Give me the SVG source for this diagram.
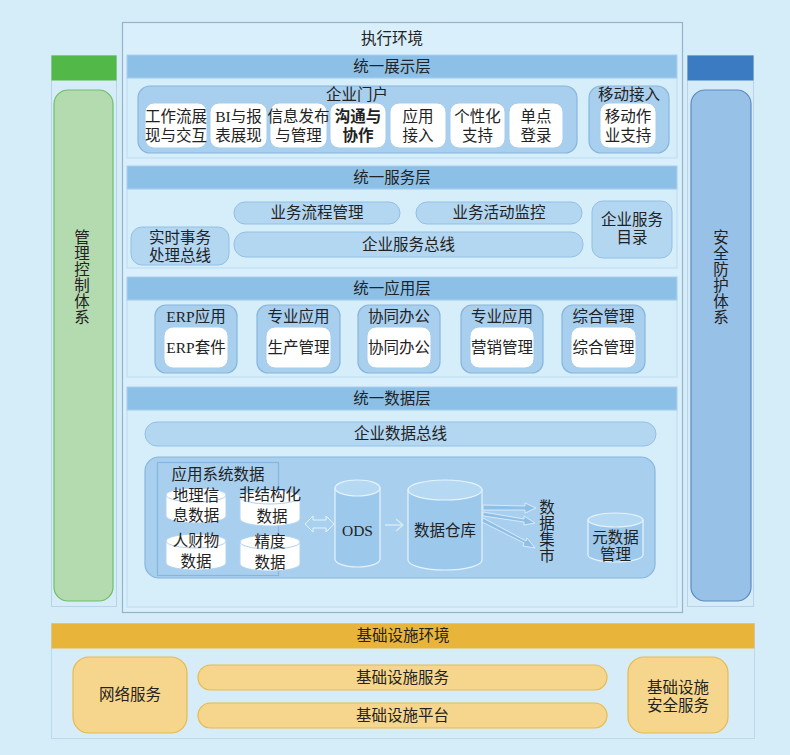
<svg xmlns="http://www.w3.org/2000/svg" width="790" height="755" viewBox="0 0 790 755">
<defs>
<style>
text{font-family:"Liberation Serif","Noto Sans CJK SC",serif;font-size:15.5px;fill:#222;text-anchor:middle}
.bar{fill:#8dc0e7;stroke:#a9d0ee;stroke-width:1}
.panel{fill:#d6edfa;stroke:#bcdcf0;stroke-width:1}
.grp{fill:#a9cfee;stroke:#86b6de;stroke-width:1.2}
.item{fill:#fff;stroke:#a6cdec;stroke-width:1}
.pill{fill:#b3d6f1;stroke:#93c0e4;stroke-width:1}
.cyl{fill:#9cc8ec;stroke:#e6f3fc;stroke-width:1.2}
.cyltop{fill:#b5d8f3;stroke:#e6f3fc;stroke-width:1.2}
.scyl{fill:#fff;stroke:#b0d2ee;stroke-width:1}
.gold{fill:#f6d68c;stroke:#e8b94c;stroke-width:1.2}
</style>
</defs>
<rect x="0" y="0" width="790" height="755" fill="#d5ecf9"/>

<!-- execution environment -->
<g id="exec-env">
<rect x="122.5" y="22.5" width="560" height="590" fill="#d9effb" stroke="#98b2cc" stroke-width="1.2"/>
<text x="392" y="44">执行环境</text>
</g>

<!-- display layer -->
<g id="display-layer">
<rect class="panel" x="127" y="78" width="550" height="80"/>
<rect class="bar" x="127" y="55" width="550" height="23"/>
<text x="392" y="72">统一展示层</text>
</g>
<g id="portal">
<rect class="grp" x="138" y="86" width="439" height="67" rx="12"/>
<text x="357" y="100">企业门户</text>
</g>
<g id="p1"><rect class="item" x="145" y="103" width="62" height="45" rx="9"/><text x="176" y="122">工作流展</text><text x="176" y="141">现与交互</text></g>
<g id="p2"><rect class="item" x="210" y="103" width="57" height="45" rx="9"/><text x="238.5" y="122">BI与报</text><text x="238.5" y="141">表展现</text></g>
<g id="p3"><rect class="item" x="270" y="103" width="57" height="45" rx="9"/><text x="298.5" y="122">信息发布</text><text x="298.5" y="141">与管理</text></g>
<g id="p4"><rect class="item" x="330" y="103" width="56" height="45" rx="9"/><text x="358" y="122" font-weight="bold">沟通与</text><text x="358" y="141" font-weight="bold">协作</text></g>
<g id="p5"><rect class="item" x="390" y="103" width="56" height="45" rx="9"/><text x="418" y="122">应用</text><text x="418" y="141">接入</text></g>
<g id="p6"><rect class="item" x="450" y="103" width="55" height="45" rx="9"/><text x="477.5" y="122">个性化</text><text x="477.5" y="141">支持</text></g>
<g id="p7"><rect class="item" x="509" y="103" width="54" height="45" rx="9"/><text x="536" y="122">单点</text><text x="536" y="141">登录</text></g>
<g id="mobile">
<rect class="grp" x="589" y="86" width="80" height="67" rx="12"/>
<text x="629" y="100">移动接入</text>
<rect class="item" x="600" y="103" width="56" height="45" rx="9"/>
<text x="628" y="122">移动作</text><text x="628" y="141">业支持</text>
</g>

<!-- service layer -->
<g id="service-layer">
<rect class="panel" x="127" y="189" width="550" height="79"/>
<rect class="bar" x="127" y="166" width="550" height="23"/>
<text x="392" y="183">统一服务层</text>
</g>
<g id="bpm"><rect class="pill" x="234" y="202" width="166" height="22" rx="11"/><text x="317" y="218">业务流程管理</text></g>
<g id="bam"><rect class="pill" x="416" y="202" width="166" height="22" rx="11"/><text x="499" y="218">业务活动监控</text></g>
<g id="rtbus"><rect class="pill" x="131" y="227" width="98" height="38" rx="11"/><text x="180" y="243">实时事务</text><text x="180" y="261">处理总线</text></g>
<g id="esb"><rect class="pill" x="234" y="232" width="349" height="25" rx="12"/><text x="408.5" y="250">企业服务总线</text></g>
<g id="esd"><rect class="pill" x="592" y="201" width="80" height="57" rx="11"/><text x="632" y="225">企业服务</text><text x="632" y="243">目录</text></g>

<!-- application layer -->
<g id="app-layer">
<rect class="panel" x="127" y="300" width="550" height="77"/>
<rect class="bar" x="127" y="277" width="550" height="23"/>
<text x="392" y="294">统一应用层</text>
</g>
<g id="a1"><rect class="grp" x="155" y="305" width="82" height="68" rx="11"/><text x="196" y="322">ERP应用</text><rect class="item" x="164" y="327" width="64" height="41" rx="9"/><text x="196" y="353">ERP套件</text></g>
<g id="a2"><rect class="grp" x="257" y="305" width="83" height="68" rx="11"/><text x="298.5" y="322">专业应用</text><rect class="item" x="266" y="327" width="65" height="41" rx="9"/><text x="298.5" y="353">生产管理</text></g>
<g id="a3"><rect class="grp" x="358" y="305" width="82" height="68" rx="11"/><text x="399" y="322">协同办公</text><rect class="item" x="367" y="327" width="64" height="41" rx="9"/><text x="399" y="353">协同办公</text></g>
<g id="a4"><rect class="grp" x="461" y="305" width="82" height="68" rx="11"/><text x="502" y="322">专业应用</text><rect class="item" x="470" y="327" width="64" height="41" rx="9"/><text x="502" y="353">营销管理</text></g>
<g id="a5"><rect class="grp" x="562" y="305" width="83" height="68" rx="11"/><text x="603.5" y="322">综合管理</text><rect class="item" x="571" y="327" width="65" height="41" rx="9"/><text x="603.5" y="353">综合管理</text></g>

<!-- data layer -->
<g id="data-layer">
<rect class="panel" x="127" y="410" width="550" height="197"/>
<rect class="bar" x="127" y="387" width="550" height="23"/>
<text x="392" y="404">统一数据层</text>
</g>
<g id="edb"><rect class="pill" x="145" y="422" width="511" height="24" rx="12"/><text x="400.5" y="439">企业数据总线</text></g>
<g id="data-group"><rect class="grp" x="145" y="457" width="510" height="121" rx="14"/></g>
<g id="app-sys-data">
<rect x="157.5" y="462.5" width="121" height="113" fill="#a9cfee" stroke="#86b6de" stroke-width="1.2"/>
<text x="218" y="480">应用系统数据</text>
</g>
<g id="c-geo">
<path class="scyl" d="M166,495 L166,516 A30,7 0 0 0 226,516 L226,495 Z"/>
<ellipse class="scyl" cx="196" cy="495" rx="30" ry="7"/>
<text x="196" y="501">地理信</text><text x="196" y="521">息数据</text>
</g>
<g id="c-unstruct">
<path class="scyl" d="M240,497 L240,519 A30,7 0 0 0 300,519 L300,497 Z"/>
<ellipse class="scyl" cx="270" cy="497" rx="30" ry="7"/>
<text x="270" y="500">非结构化</text><text x="272" y="522">数据</text>
</g>
<g id="c-hr">
<path class="scyl" d="M166,541 L166,563 A30,7 0 0 0 226,563 L226,541 Z"/>
<ellipse class="scyl" cx="196" cy="541" rx="30" ry="7"/>
<text x="196" y="546">人财物</text><text x="196" y="567">数据</text>
</g>
<g id="c-prec">
<path class="scyl" d="M240,542 L240,564 A30,7 0 0 0 300,564 L300,542 Z"/>
<ellipse class="scyl" cx="270" cy="542" rx="30" ry="7"/>
<text x="270" y="547">精度</text><text x="270" y="568">数据</text>
</g>
<g id="ods">
<path class="cyl" d="M335,488 L335,559 A22.5,8 0 0 0 380,559 L380,488 Z"/>
<ellipse class="cyltop" cx="357.5" cy="488" rx="22.5" ry="8"/>
<text x="357.5" y="536">ODS</text>
</g>
<g id="dw">
<path class="cyl" d="M408,490 L408,560 A37,10 0 0 0 482,560 L482,490 Z"/>
<ellipse class="cyltop" cx="445" cy="490" rx="37" ry="10"/>
<text x="445" y="536">数据仓库</text>
</g>
<g id="datamart">
<text x="547" y="513">数</text><text x="547" y="529">据</text><text x="547" y="545">集</text><text x="547" y="561">市</text>
</g>
<g id="meta">
<path class="cyl" d="M588,520 L588,555 A27.5,7 0 0 0 643,555 L643,520 Z"/>
<ellipse class="cyltop" cx="615.5" cy="520" rx="27.5" ry="7"/>
<text x="615.5" y="543">元数据</text><text x="615.5" y="560">管理</text>
</g>

<!-- connectors -->
<g id="connectors">
<polygon points="305,524 313,516 313,520 326,520 326,516 334,524 326,532 326,528 313,528 313,532" fill="#a8d0ef" stroke="#e6f3fc" stroke-width="1"/>
<path d="M385,525 L403,525 M396,519 L403,525 L396,531" fill="none" stroke="#d2eaf8" stroke-width="1.5"/>
<polygon points="483,505 525,506 525,503 536,508 525,513 525,510 483,510" fill="#8ec0e7" stroke="#e6f3fc" stroke-width="0.8"/>
<polygon points="483,512 524,519 524,516 535,523 524,525 524,522 483,516" fill="#8ec0e7" stroke="#e6f3fc" stroke-width="0.8"/>
<polygon points="483,518 526,541 527,538 535,548 523,546 524,543 482,522" fill="#8ec0e7" stroke="#e6f3fc" stroke-width="0.8"/>
</g>

<!-- left column -->
<g id="mgmt">
<rect x="51.5" y="55.5" width="65" height="551" fill="#d6edf9" stroke="#b9d3e6" stroke-width="1"/>
<rect x="51.5" y="55.5" width="65" height="25" fill="#52b848"/>
<rect x="54" y="90" width="59" height="511" rx="14" fill="#b4dbb0" stroke="#6cc067" stroke-width="1.2"/>
<text x="82" y="243">管</text><text x="82" y="259">理</text><text x="82" y="275">控</text><text x="82" y="291">制</text><text x="82" y="307">体</text><text x="82" y="323">系</text>
</g>

<!-- right column -->
<g id="security">
<rect x="687.5" y="55.5" width="66" height="551" fill="#d6edf9" stroke="#b9d3e6" stroke-width="1"/>
<rect x="687.5" y="55.5" width="66" height="25" fill="#3b7bc2"/>
<rect x="691" y="90" width="60" height="511" rx="14" fill="#98c1e7" stroke="#5b8ac3" stroke-width="1.2"/>
<text x="721" y="243">安</text><text x="721" y="259">全</text><text x="721" y="275">防</text><text x="721" y="291">护</text><text x="721" y="307">体</text><text x="721" y="323">系</text>
</g>

<!-- infrastructure -->
<g id="infra">
<rect x="51.5" y="623.5" width="703" height="115" fill="#d6edf9" stroke="#bcd8ea" stroke-width="1"/>
<rect x="51.5" y="623.5" width="703" height="25" fill="#e9b43a"/>
<text x="403" y="641">基础设施环境</text>
</g>
<g id="net"><rect class="gold" x="73" y="657" width="114" height="76" rx="16"/><text x="130" y="700">网络服务</text></g>
<g id="infra-svc"><rect class="gold" x="198" y="665" width="409" height="25" rx="12.5"/><text x="402.5" y="683">基础设施服务</text></g>
<g id="infra-plat"><rect class="gold" x="198" y="703" width="409" height="25" rx="12.5"/><text x="402.5" y="721">基础设施平台</text></g>
<g id="infra-sec"><rect class="gold" x="628" y="657" width="100" height="76" rx="16"/><text x="678" y="693">基础设施</text><text x="678" y="711">安全服务</text></g>
</svg>
